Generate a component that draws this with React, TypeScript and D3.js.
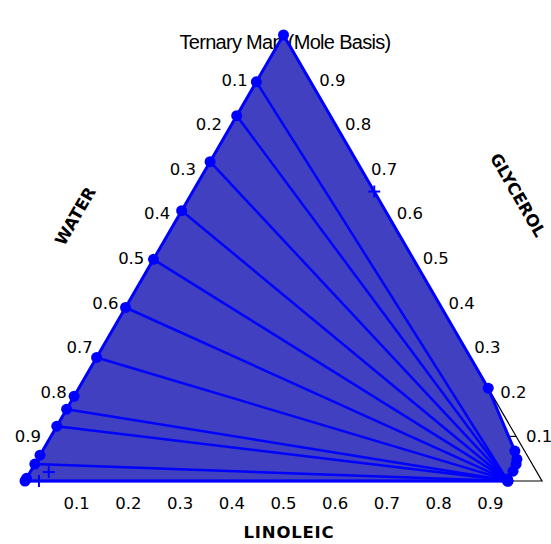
import React from "react";
import * as d3 from "d3";

// Compositions as (glycerol, linoleic) mole fractions; water = 1 - g - l
const leftBranchG = [1.0, 0.895, 0.819, 0.716, 0.606, 0.497, 0.389, 0.277, 0.19, 0.161, 0.123, 0.058, 0.038, 0.006, 0.0];
const leftBranchL = [0, 0, 0, 0, 0, 0, 0, 0, 0, 0, 0, 0, 0, 0, 0];
const rightBranchG = [0.0, 0.022, 0.038, 0.049, 0.067, 0.208];
const rightBranchL = [0.934, 0.933, 0.931, 0.927, 0.914, 0.792];

const tieLeftG = [0.895, 0.819, 0.716, 0.606, 0.497, 0.389, 0.277, 0.161, 0.123, 0.038, 0.0];
const tieLeftL = [0, 0, 0, 0, 0, 0, 0, 0, 0, 0, 0];
const tieRightG = [0.004, 0.004, 0.003, 0.003, 0.003, 0.002, 0.002, 0.001, 0.001, 0.0, 0.0];
const tieRightL = [0.93, 0.93, 0.931, 0.931, 0.931, 0.932, 0.932, 0.933, 0.933, 0.934, 0.934];

const plusG = [0.649, 0.02, 0.0];
const plusL = [0.351, 0.036, 0.027];

const tickValues = [0.1, 0.2, 0.3, 0.4, 0.5, 0.6, 0.7, 0.8, 0.9];
const tickLabels = ["0.1", "0.2", "0.3", "0.4", "0.5", "0.6", "0.7", "0.8", "0.9"];

const title = "Ternary Map (Mole Basis)";
const bottomTitle = "LINOLEIC";
const leftTitle = "WATER";
const rightTitle = "GLYCEROL";

const W = 551;
const H = 544;

// scales: horizontal position along the base, and height for glycerol
const xs = d3.scaleLinear().domain([0, 1]).range([25, 542]);
const ys = d3.scaleLinear().domain([0, 1]).range([481, 35]);

const px = (g: number, l: number): [number, number] => [xs(l + g / 2), ys(g)];

export default function App() {
  const line = d3.line<[number, number]>().x((d) => d[0]).y((d) => d[1]);

  const leftPts = leftBranchG.map((g, i) => px(g, leftBranchL[i]));
  const rightPts = rightBranchG.map((g, i) => px(g, rightBranchL[i]));
  const binodal: [number, number][] = [...leftPts, ...rightPts, px(1, 0)];

  const A = px(1, 0);
  const B = px(0, 0);
  const C = px(0, 1);

  const fontTick = "'DejaVu Sans', Verdana, sans-serif";
  const blue = "#0000ff";

  return (
    <svg
      width={W}
      height={H}
      style={{ position: "absolute", left: 0, top: 0, background: "#fff" }}
    >
      <text
        x={285}
        y={49}
        textAnchor="middle"
        fontFamily="'Liberation Sans', Arial, sans-serif"
        fontSize={20}
        letterSpacing={-0.7}
        fill="#000"
      >
        {title}
      </text>

      {/* triangle frame */}
      <path d={line([A, B, C, A]) + "Z"} fill="none" stroke="#000" strokeWidth={1.2} />

      {/* ticks (inward) */}
      {tickValues.map((v, i) => {
        const [x, y] = px(v, 1 - v);
        return <line key={"rt" + i} x1={x} y1={y} x2={x - 6} y2={y} stroke="#000" strokeWidth={1.2} />;
      })}

      {/* two-phase region */}
      <path d={line(binodal) + "Z"} fill="#4040c0" stroke="none" />

      {/* tie lines */}
      {tieLeftG.map((g, i) => {
        const [x1, y1] = px(g, tieLeftL[i]);
        const [x2, y2] = px(tieRightG[i], tieRightL[i]);
        return <line key={"tl" + i} x1={x1} y1={y1} x2={x2} y2={y2} stroke={blue} strokeWidth={2.5} />;
      })}

      {/* binodal curve */}
      <path d={line(binodal) || ""} fill="none" stroke={blue} strokeWidth={3} strokeLinejoin="round" />

      {/* points */}
      {[...leftPts, ...rightPts].map((p, i) => (
        <circle key={"bp" + i} cx={p[0]} cy={p[1]} r={5.5} fill={blue} />
      ))}
      {tieRightG.map((g, i) => {
        const [x, y] = px(g, tieRightL[i]);
        return <circle key={"tr" + i} cx={x} cy={y} r={5.5} fill={blue} />;
      })}

      {/* plus markers */}
      {plusG.map((g, i) => {
        const [x, y] = px(g, plusL[i]);
        return (
          <g key={"pl" + i} stroke={blue} strokeWidth={2}>
            <line x1={x - 6} y1={y} x2={x + 6} y2={y} />
            <line x1={x} y1={y - 6} x2={x} y2={y + 6} />
          </g>
        );
      })}

      {/* bottom labels (linoleic) */}
      {tickValues.map((v, i) => {
        const [x, y] = px(0, v);
        return (
          <text key={"bl" + i} x={x} y={y + 28} textAnchor="middle" fontFamily={fontTick} fontSize={16.5} fill="#000">
            {tickLabels[i]}
          </text>
        );
      })}
      {/* left labels (water) */}
      {tickValues.map((v, i) => {
        const [x, y] = px(1 - v, 0);
        return (
          <text key={"ll" + i} x={x - 23} y={y + 6} textAnchor="middle" fontFamily={fontTick} fontSize={16.5} fill="#000">
            {tickLabels[i]}
          </text>
        );
      })}
      {/* right labels (glycerol) */}
      {tickValues.map((v, i) => {
        const [x, y] = px(v, 1 - v);
        return (
          <text key={"rl" + i} x={x + 23} y={y + 6} textAnchor="middle" fontFamily={fontTick} fontSize={16.5} fill="#000">
            {tickLabels[i]}
          </text>
        );
      })}

      <text x={289} y={538} textAnchor="middle" fontFamily={fontTick} fontWeight="bold" fontSize={16.5} letterSpacing={0.8} fill="#000">
        {bottomTitle}
      </text>
      <text
        transform="translate(75,216) rotate(-60)"
        textAnchor="middle"
        dy={6}
        fontFamily={fontTick}
        fontWeight="bold"
        fontSize={16.5}
        fill="#000"
      >
        {leftTitle}
      </text>
      <text
        transform="translate(518,195) rotate(60)"
        textAnchor="middle"
        dy={6}
        fontFamily={fontTick}
        fontWeight="bold"
        fontSize={16.5}
        fill="#000"
      >
        {rightTitle}
      </text>
    </svg>
  );
}
